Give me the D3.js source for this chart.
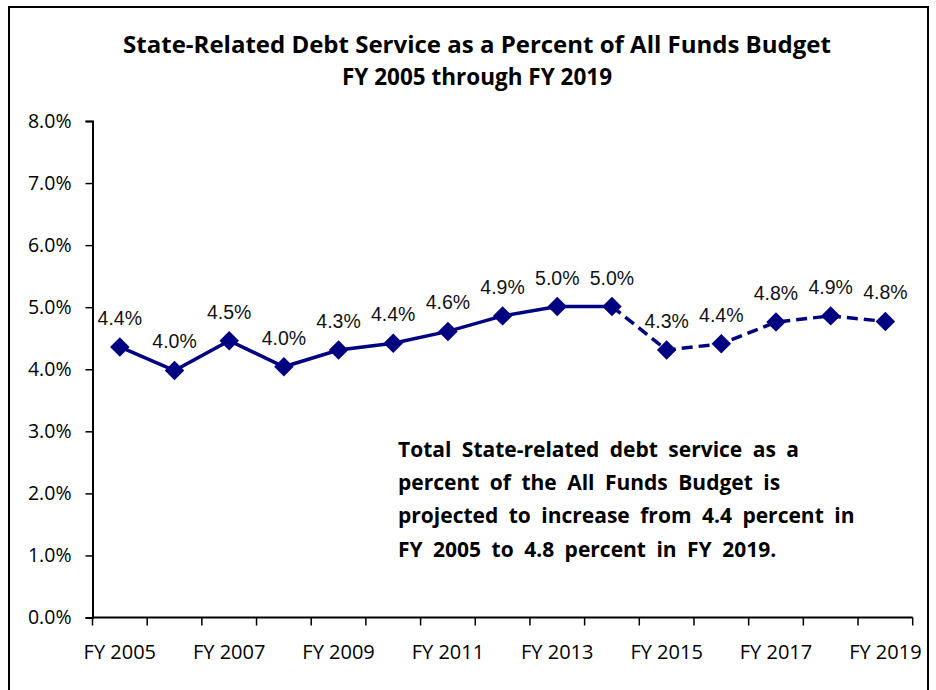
<!DOCTYPE html>
<html>
<head>
<meta charset="utf-8">
<script src="https://cdn.jsdelivr.net/npm/d3@7"></script>
<style>
  html, body { margin: 0; padding: 0; background: #fff; }
  svg { display: block; }
</style>
</head>
<body>
<svg id="chart" width="936" height="690"></svg>
<script>
// Fiscal years on the category axis
const years = ["FY 2005","FY 2006","FY 2007","FY 2008","FY 2009","FY 2010","FY 2011","FY 2012",
               "FY 2013","FY 2014","FY 2015","FY 2016","FY 2017","FY 2018","FY 2019"];
// Debt service as a percent of the All Funds Budget
const debtPct = [4.36, 3.98, 4.46, 4.04, 4.31, 4.42, 4.61, 4.86, 5.01, 5.01, 4.31, 4.41, 4.76, 4.86, 4.77];
// Last actual year; later years are projections (dashed)
const lastActual = "FY 2014";
// Y axis ticks, in percent
const yTicks = [0, 1, 2, 3, 4, 5, 6, 7, 8];
// Labelled category ticks
const xLabels = ["FY 2005","FY 2007","FY 2009","FY 2011","FY 2013","FY 2015","FY 2017","FY 2019"];

const titleLines = ["State-Related Debt Service as a Percent of All Funds Budget", "FY 2005 through FY 2019"];
const noteLines = [
  "Total State-related debt service as a",
  "percent of the All Funds Budget is",
  "projected to increase from 4.4 percent in",
  "FY 2005 to 4.8 percent in FY 2019."
];

const navy = "#000080";
const svg = d3.select("#chart");

// Outer frame
svg.append("rect")
  .attr("x", 9).attr("y", 7).attr("width", 919).attr("height", 710)
  .attr("fill", "none").attr("stroke", "#000").attr("stroke-width", 2);

// Title
svg.append("text")
  .attr("x", 477).attr("y", 53).attr("text-anchor", "middle")
  .attr("font-family", "'Open Sans', sans-serif").attr("font-weight", "bold")
  .attr("font-size", 24).attr("fill", "#000")
  .text(titleLines[0]);
svg.append("text")
  .attr("x", 477).attr("y", 85).attr("text-anchor", "middle")
  .attr("font-family", "'Open Sans', sans-serif").attr("font-weight", "bold")
  .attr("font-size", 22.5).attr("fill", "#000")
  .text(titleLines[1]);

// Scales
const x = d3.scaleBand().domain(years).range([92.5, 912.7]).padding(0);
const y = d3.scaleLinear().domain([0, 8]).range([617.5, 121]);
const cx = d => x(d) + x.bandwidth() / 2;

// Y axis
const yAxis = svg.append("g")
  .attr("transform", "translate(92.5,0)")
  .call(d3.axisLeft(y).tickValues(yTicks).tickSize(7).tickPadding(14)
    .tickFormat(d => d.toFixed(1) + "%"));
yAxis.select(".domain").attr("stroke", "#000").attr("stroke-width", 2);
yAxis.selectAll(".tick line").attr("stroke", "#000").attr("stroke-width", 1.5);
yAxis.selectAll(".tick text")
  .attr("font-family", "'Open Sans', sans-serif").attr("font-size", 19.5).attr("fill", "#000");

// X axis: tick marks on category boundaries, labels every other year
const xAxis = svg.append("g").attr("transform", "translate(0,617.5)");
xAxis.append("line")
  .attr("x1", x.range()[0]).attr("x2", x.range()[1])
  .attr("stroke", "#000").attr("stroke-width", 2);
const bounds = years.map(d => x(d)).concat([x.range()[1]]);
xAxis.selectAll("line.tk").data(bounds).join("line").attr("class", "tk")
  .attr("x1", d => d).attr("x2", d => d).attr("y1", 0).attr("y2", 8)
  .attr("stroke", "#000").attr("stroke-width", 1.5);
xAxis.selectAll("text").data(xLabels).join("text")
  .attr("x", d => cx(d)).attr("y", 41).attr("text-anchor", "middle")
  .attr("font-family", "'Open Sans', sans-serif").attr("font-size", 20).attr("fill", "#000")
  .text(d => d);

// Series
const pts = years.map((yr, i) => ({ yr, v: debtPct[i] }));
const splitIdx = years.indexOf(lastActual);
const line = d3.line().x(d => cx(d.yr)).y(d => y(d.v));

svg.append("path").datum(pts.slice(0, splitIdx + 1))
  .attr("d", line).attr("fill", "none").attr("stroke", navy).attr("stroke-width", 3.5);
svg.append("path").datum(pts.slice(splitIdx))
  .attr("d", line).attr("fill", "none").attr("stroke", navy).attr("stroke-width", 3.5)
  .attr("stroke-dasharray", "11,6");

// Diamond markers
svg.selectAll("path.mk").data(pts).join("path").attr("class", "mk")
  .attr("d", d3.symbol(d3.symbolSquare, 190))
  .attr("transform", d => `translate(${cx(d.yr)},${y(d.v)}) rotate(45)`)
  .attr("fill", navy);

// Value labels
svg.selectAll("text.val").data(pts).join("text").attr("class", "val")
  .attr("x", d => cx(d.yr)).attr("y", d => y(d.v) - 22).attr("text-anchor", "middle")
  .attr("font-family", "'Liberation Sans', Arial, sans-serif").attr("font-size", 19.5).attr("fill", "#111")
  .text(d => d.v.toFixed(1) + "%");

// Note
svg.append("g").selectAll("text").data(noteLines).join("text")
  .attr("x", 398).attr("y", (d, i) => 457 + i * 33.2)
  .attr("font-family", "'Open Sans', sans-serif").attr("font-weight", "bold")
  .attr("font-size", 21).attr("word-spacing", 5).attr("fill", "#000")
  .text(d => d);
</script>
</body>
</html>
